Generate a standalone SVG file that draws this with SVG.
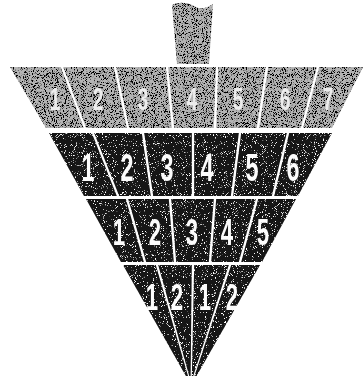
<svg xmlns="http://www.w3.org/2000/svg" width="364" height="376" viewBox="0 0 364 376">
<style>
.g{fill:#b4b4b4;filter:url(#speckG)}
.k{fill:#141414;filter:url(#speckK)}
.d{font-family:"Liberation Sans","DejaVu Sans",sans-serif;font-weight:bold;text-anchor:middle;fill:#ffffff;opacity:0.99}
.dg{fill:#eeeeee;font-size:32px}
.d1{font-size:39px}
.d2{font-size:37px}
.d3{font-size:37px}
</style>
<defs>
<filter id="speckG" x="0" y="0" width="100%" height="100%">
<feTurbulence type="fractalNoise" baseFrequency="1.1" numOctaves="2" seed="4" result="n"/>
<feColorMatrix in="n" type="matrix" values="0 0 0 0 0  0 0 0 0 0  0 0 0 0 0  0 0 0 -9 4.4" result="dots"/>
<feComposite in="dots" in2="SourceAlpha" operator="in" result="d2"/>
<feMerge><feMergeNode in="SourceGraphic"/><feMergeNode in="d2"/></feMerge>
</filter>
<filter id="speckK" x="0" y="0" width="100%" height="100%">
<feTurbulence type="fractalNoise" baseFrequency="1.1" numOctaves="2" seed="9" result="n"/>
<feColorMatrix in="n" type="matrix" values="0 0 0 0 1  0 0 0 0 1  0 0 0 0 1  0 0 0 10 -6.4" result="dots"/>
<feComposite in="dots" in2="SourceAlpha" operator="in" result="d2"/>
<feMerge><feMergeNode in="SourceGraphic"/><feMergeNode in="d2"/></feMerge>
</filter>
</defs>
<rect width="364" height="376" fill="#ffffff"/>
<g id="tab"><path class="g" d="M172,5 C180,1 190,3 196,7 C202,10 208,7 213,4 L209,64 L177,64 Z"/></g>
<g id="row-gray">
<g id="g1"><polygon class="g" points="10,67 60.8,67 83.8,128 46,128"/><text class="d dg" transform="translate(55,110) scale(0.6,1)">1</text></g>
<g id="g2"><polygon class="g" points="63.2,67 113.8,67 126.8,128 86.2,128"/><text class="d dg" transform="translate(98,110) scale(0.6,1)">2</text></g>
<g id="g3"><polygon class="g" points="116.2,67 165.8,67 171.8,128 129.2,128"/><text class="d dg" transform="translate(143,110) scale(0.6,1)">3</text></g>
<g id="g4"><polygon class="g" points="168.2,67 215.8,67 213.8,128 174.2,128"/><text class="d dg" transform="translate(192,110) scale(0.6,1)">4</text></g>
<g id="g5"><polygon class="g" points="218.2,67 265.8,67 256.8,128 216.2,128"/><text class="d dg" transform="translate(238,110) scale(0.6,1)">5</text></g>
<g id="g6"><polygon class="g" points="268.2,67 316.8,67 300.8,128 259.2,128"/><text class="d dg" transform="translate(285,110) scale(0.6,1)">6</text></g>
<g id="g7"><polygon class="g" points="319.2,67 363,67 332,128 303.2,128"/><text class="d dg" transform="translate(328,110) scale(0.6,1)">7</text></g>
</g>
<g id="row-1">
<g id="r1c1"><polygon class="k" points="49,133 91.8,133 116.8,196 84,196"/><text class="d d1" transform="translate(88,181) scale(0.6,1)">1</text></g>
<g id="r1c2"><polygon class="k" points="94.2,133 141.8,133 150.8,196 119.2,196"/><text class="d d1" transform="translate(127,181) scale(0.6,1)">2</text></g>
<g id="r1c3"><polygon class="k" points="144.2,133 191.8,133 191.8,196 153.2,196"/><text class="d d1" transform="translate(167,181) scale(0.6,1)">3</text></g>
<g id="r1c4"><polygon class="k" points="194.2,133 238.8,133 230.8,196 194.2,196"/><text class="d d1" transform="translate(207,181) scale(0.6,1)">4</text></g>
<g id="r1c5"><polygon class="k" points="241.2,133 286.8,133 271.8,196 233.2,196"/><text class="d d1" transform="translate(252,181) scale(0.6,1)">5</text></g>
<g id="r1c6"><polygon class="k" points="289.2,133 332,133 298,196 274.2,196"/><text class="d d1" transform="translate(293,181) scale(0.6,1)">6</text></g>
</g>
<g id="row-2">
<g id="r2c1"><polygon class="k" points="86,199 125.8,199 143.8,262 121,262"/><text class="d d2" transform="translate(119,245) scale(0.6,1)">1</text></g>
<g id="r2c2"><polygon class="k" points="128.2,199 168.8,199 173.8,262 146.2,262"/><text class="d d2" transform="translate(155,245) scale(0.6,1)">2</text></g>
<g id="r2c3"><polygon class="k" points="171.2,199 213.8,199 208.8,262 176.2,262"/><text class="d d2" transform="translate(192,245) scale(0.6,1)">3</text></g>
<g id="r2c4"><polygon class="k" points="216.2,199 255.8,199 238.8,262 211.2,262"/><text class="d d2" transform="translate(227,245) scale(0.6,1)">4</text></g>
<g id="r2c5"><polygon class="k" points="258.2,199 296,199 262,262 241.2,262"/><text class="d d2" transform="translate(263,245) scale(0.6,1)">5</text></g>
</g>
<g id="row-3">
<g id="r3c1"><polygon class="k" points="123,265 155.8,265 188.6,378 187,378"/><text class="d d3" transform="translate(152,310) scale(0.6,1)">1</text></g>
<g id="r3c2"><polygon class="k" points="158.2,265 191.8,265 190.6,378 189.8,378"/><text class="d d3" transform="translate(177,310) scale(0.6,1)">2</text></g>
<g id="r3c3"><polygon class="k" points="194.2,265 228.8,265 192.6,378 191.8,378"/><text class="d d3" transform="translate(205,310) scale(0.6,1)">1</text></g>
<g id="r3c4"><polygon class="k" points="231.2,265 260,265 195.4,378 193.8,378"/><text class="d d3" transform="translate(232,310) scale(0.6,1)">2</text></g>
</g>
</svg>
